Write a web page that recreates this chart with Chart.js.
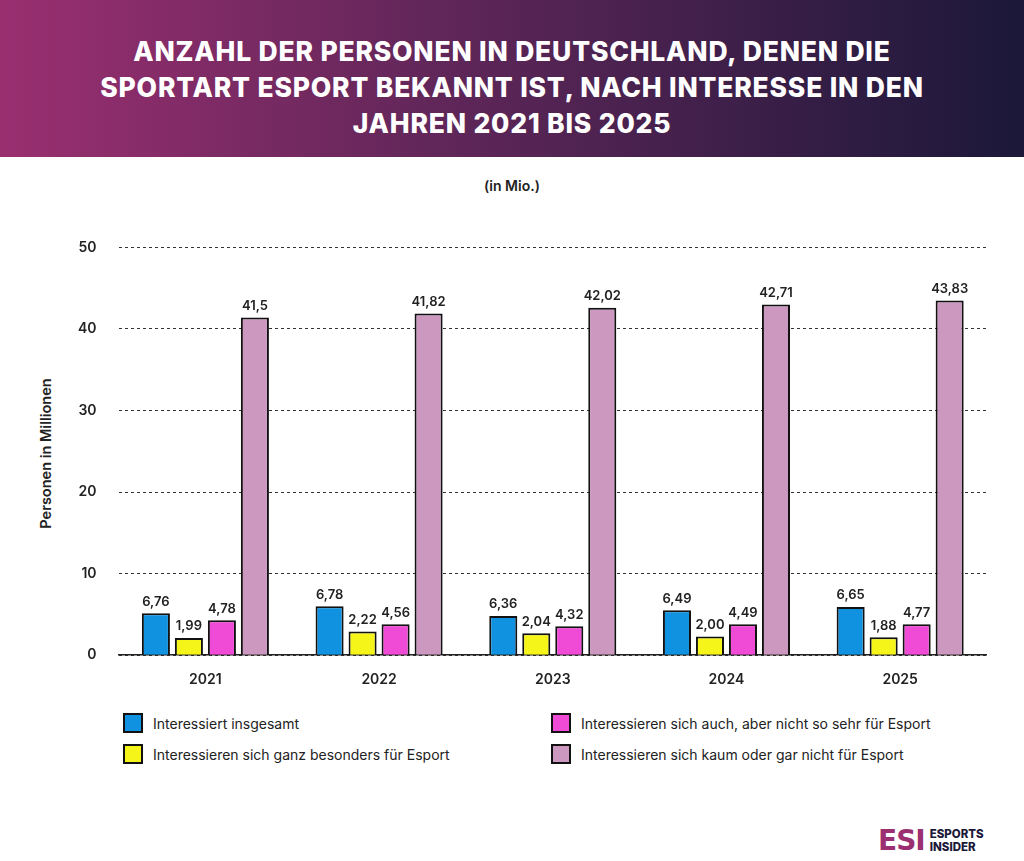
<!DOCTYPE html>
<html><head><meta charset="utf-8">
<script src="https://cdn.jsdelivr.net/npm/chart.js@4"></script>
<style>
body{margin:0;width:1024px;height:861px;background:#fff;font-family:Inter,"Open Sans",sans-serif;position:relative;overflow:hidden}
#hdr{position:absolute;left:0;top:0;width:1024px;height:157px;background:linear-gradient(90deg,#9a2f70 0%,#5e2658 45%,#1b1839 100%);color:#fff;text-align:center;font-weight:800;font-size:26.5px;line-height:36px;letter-spacing:0.8px;padding-top:33px;box-sizing:border-box}
#sub{position:absolute;top:177px;width:1024px;text-align:center;font-size:14px;font-weight:600;color:#222}
#ylab{position:absolute;left:-45px;top:445px;transform:rotate(-90deg);font-size:14.5px;font-weight:600;color:#222;width:180px;text-align:center;white-space:nowrap}
#wrap{position:absolute;left:56px;top:217px;width:931px;height:479px}
.lg{position:absolute;font-size:14px;color:#222;display:flex;align-items:center}
.lg span{display:inline-block;width:20px;height:20px;border:2px solid #111;margin-right:10px;box-sizing:border-box}
#logo{position:absolute;left:878px;top:824px;display:flex;align-items:center}
</style></head><body>
<div id="hdr">ANZAHL DER PERSONEN IN DEUTSCHLAND, DENEN DIE<br>SPORTART ESPORT BEKANNT IST, NACH INTERESSE IN DEN<br>JAHREN 2021 BIS 2025</div>
<div id="sub">(in Mio.)</div>
<div id="ylab">Personen in Millionen</div>
<div id="wrap"><canvas id="c"></canvas></div>
<div class="lg" style="left:123px;top:713px"><span style="background:#1192e0"></span>Interessiert insgesamt</div>
<div class="lg" style="left:123px;top:744px"><span style="background:#f5f51a"></span>Interessieren sich ganz besonders für Esport</div>
<div class="lg" style="left:551px;top:713px"><span style="background:#f04bd6"></span>Interessieren sich auch, aber nicht so sehr für Esport</div>
<div class="lg" style="left:551px;top:744px"><span style="background:#cc98c0"></span>Interessieren sich kaum oder gar nicht für Esport</div>
<div id="logo"><div style="font-weight:900;font-size:28px;color:#9b2f72;letter-spacing:-1px;font-family:'DejaVu Sans'">ESI</div><div style="margin-left:5px;font-weight:800;font-size:11.5px;line-height:13px;color:#1b1839">ESPORTS<br>INSIDER</div></div>
<script>
const years=["2021","2022","2023","2024","2025"];
const names=["Interessiert insgesamt","Interessieren sich ganz besonders für Esport","Interessieren sich auch, aber nicht so sehr für Esport","Interessieren sich kaum oder gar nicht für Esport"];
// bar heights as drawn in the picture
const totalBars=[5.15,6.0,4.8,5.5,5.9];
const strongBars=[2.1,2.9,2.7,2.3,2.2];
const mildBars=[4.3,3.8,3.55,3.8,3.8];
const lowBars=[41.4,41.9,42.6,43.0,43.5];
// printed labels
const totalLbl=["6,76","6,78","6,36","6,49","6,65"];
const strongLbl=["1,99","2,22","2,04","2,00","1,88"];
const mildLbl=["4,78","4,56","4,32","4,49","4,77"];
const lowLbl=["41,5","41,82","42,02","42,71","43,83"];
const yTicks=[0,10,20,30,40,50];
const colors=["#1192e0","#f5f51a","#f04bd6","#cc98c0"];
const vals=[totalBars,strongBars,mildBars,lowBars], lbls=[totalLbl,strongLbl,mildLbl,lowLbl];
const lblPlugin={id:'lbl',afterDatasetsDraw(ch){const c=ch.ctx;c.save();c.font='600 13px Inter';c.fillStyle='#222';c.textAlign='center';c.textBaseline='bottom';
ch.data.datasets.forEach((d,i)=>{ch.getDatasetMeta(i).data.forEach((b,j)=>{c.fillText(lbls[i][j],b.x,b.y-5);});});c.restore();}};
new Chart(document.getElementById('c'),{type:'bar',
data:{labels:years,datasets:vals.map((v,i)=>({label:names[i],data:v,backgroundColor:colors[i],borderColor:'#111',borderWidth:2,borderSkipped:'bottom',categoryPercentage:0.76,barPercentage:0.85}))},
options:{responsive:true,maintainAspectRatio:false,animation:false,
plugins:{legend:{display:false},tooltip:{enabled:false}},
scales:{x:{grid:{display:false},border:{color:'#222',width:1.5},ticks:{color:'#222',font:{size:14,weight:'600',family:'Inter'},padding:8}},
y:{min:0,max:50,afterBuildTicks(a){a.ticks=yTicks.map(v=>({value:v}));},border:{display:false,dash:[3,3]},grid:{color:'#333',lineWidth:1,drawTicks:false},ticks:{color:'#222',font:{size:14,weight:'600',family:'Inter'},padding:22}}}},
plugins:[lblPlugin]});
</script></body></html>
